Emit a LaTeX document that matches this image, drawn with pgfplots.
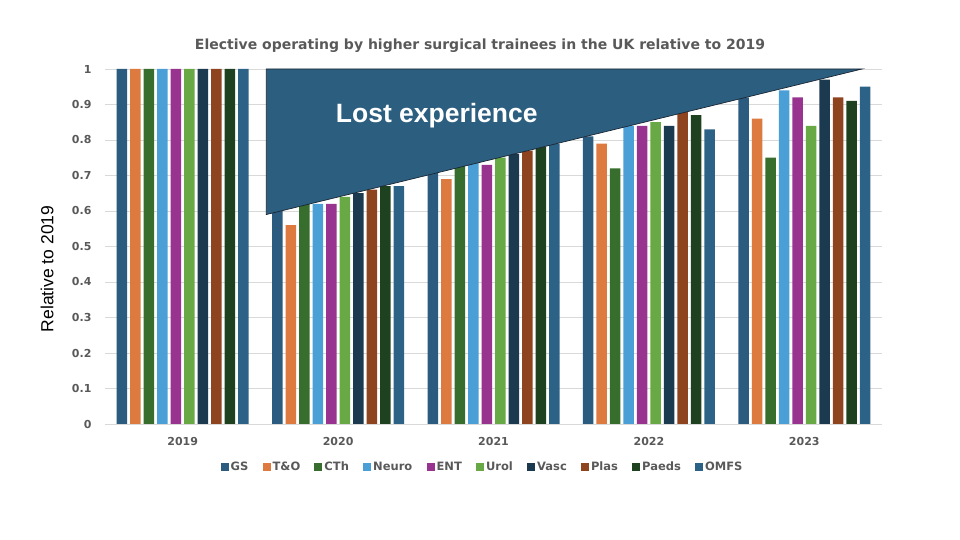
\documentclass[border=0pt]{standalone}
\usepackage{fontspec}
\setmainfont{Liberation Sans}
\newfontfamily\dvb{DejaVu Sans}
\usepackage{pgfplots}
\usepackage{pgfplotstable}
\pgfplotsset{compat=1.18}
\definecolor{cGS}{HTML}{2B5C80}
\definecolor{cTO}{HTML}{DD7A40}
\definecolor{cCTh}{HTML}{376E2D}
\definecolor{cNeuro}{HTML}{4A9FD6}
\definecolor{cENT}{HTML}{98348F}
\definecolor{cUrol}{HTML}{68A845}
\definecolor{cVasc}{HTML}{1B3A50}
\definecolor{cPlas}{HTML}{8E441F}
\definecolor{cPaeds}{HTML}{1E4220}
\definecolor{cOMFS}{HTML}{2D6287}
\definecolor{cTri}{HTML}{2C5E80}
\definecolor{cEdge}{HTML}{1A2633}
\definecolor{gridc}{HTML}{D9D9D9}
\definecolor{txtc}{HTML}{595959}
\pgfplotstableread{
x GS TO CTh Neuro ENT Urol Vasc Plas Paeds OMFS
0 1 1 1 1 1 1 1 1 1 1
1 0.61 0.56 0.62 0.62 0.62 0.64 0.65 0.66 0.67 0.67
2 0.72 0.69 0.73 0.74 0.73 0.75 0.76 0.77 0.78 0.79
3 0.81 0.79 0.72 0.84 0.84 0.85 0.84 0.88 0.87 0.83
4 0.92 0.86 0.75 0.94 0.92 0.84 0.97 0.92 0.91 0.95
}\data
\begin{document}
\begin{tikzpicture}
\path[use as bounding box] (0,0) rectangle (960pt,540pt);
\begin{axis}[
  at={(105pt,116pt)}, anchor=south west, scale only axis,
  width=777pt, height=355pt,
  ymin=0, ymax=1, xmin=-0.5, xmax=4.5,
  ybar=3pt, bar width=10.5pt,
  xtick={0,1,2,3,4}, xticklabels={2019,2020,2021,2022,2023},
  ytick={0,0.1,0.2,0.3,0.4,0.5,0.6,0.7,0.8,0.9,1},
  /pgf/number format/assume math mode=true,
  ticklabel style={font=\dvb\bfseries\fontsize{11}{13}\selectfont, text=txtc},
  xticklabel style={yshift=-9.5pt},
  yticklabel style={xshift=-10pt},
  ymajorgrids, grid style={draw=gridc, line width=0.75pt},
  axis line style={draw=none},
  major tick length=0pt,
  clip=false,
  ylabel={Relative to 2019},
  ylabel style={at={(axis description cs:-0.0745,0.437)}, anchor=center, font=\fontsize{17.5}{20}\selectfont, text=black},
  legend columns=10,
  legend style={at={(0.486,-0.121)}, anchor=center, draw=none, fill=none,
    font=\dvb\bfseries\fontsize{11.5}{13}\selectfont, text=txtc,
    /tikz/every odd column/.append style={column sep=0pt},
    /tikz/every even column/.append style={column sep=12.2pt}},
  legend image code/.code={\fill[#1] (0pt,-4pt) rectangle (8pt,4pt);},
]
\addplot[fill=cGS, draw=none] table[x=x, y=GS] {\data};
\addplot[fill=cTO, draw=none] table[x=x, y=TO] {\data};
\addplot[fill=cCTh, draw=none] table[x=x, y=CTh] {\data};
\addplot[fill=cNeuro, draw=none] table[x=x, y=Neuro] {\data};
\addplot[fill=cENT, draw=none] table[x=x, y=ENT] {\data};
\addplot[fill=cUrol, draw=none] table[x=x, y=Urol] {\data};
\addplot[fill=cVasc, draw=none] table[x=x, y=Vasc] {\data};
\addplot[fill=cPlas, draw=none] table[x=x, y=Plas] {\data};
\addplot[fill=cPaeds, draw=none] table[x=x, y=Paeds] {\data};
\addplot[fill=cOMFS, draw=none] table[x=x, y=OMFS] {\data};
\legend{GS, T\&O, CTh, Neuro, ENT, Urol, Vasc, Plas, Paeds, OMFS}
\fill[fill=cTri, draw=cEdge, line width=0.7pt] (axis cs:0.538,1) -- (axis cs:4.372,1) -- (axis cs:0.538,0.59) -- cycle;
\node[text=white, font=\bfseries\fontsize{26.5}{30}\selectfont] at (axis cs:1.635,0.868) {Lost experience};
\end{axis}
\node[font=\dvb\bfseries\fontsize{14}{16}\selectfont, text=txtc] at (480pt,494pt) {Elective operating by higher surgical trainees in the UK relative to 2019};
\end{tikzpicture}
\end{document}
